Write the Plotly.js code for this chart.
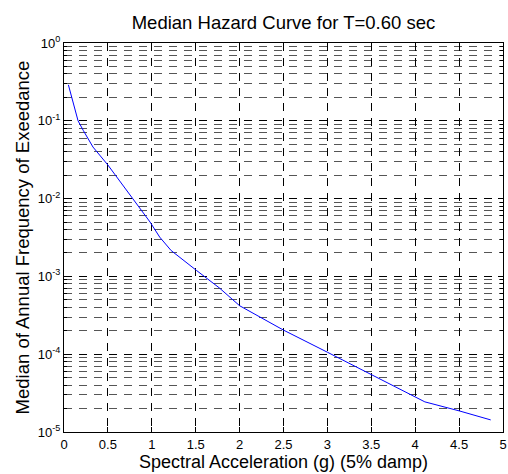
<!DOCTYPE html>
<html>
<head>
<meta charset="utf-8">
<script src="https://cdn.plot.ly/plotly-3.0.1.min.js"></script>
<style>html,body{margin:0;padding:0;background:#fff;}#chart{width:508px;height:474px;}</style>
</head>
<body>
<div id="chart"></div>
<script>
// Spectral acceleration (g)
var saValues = [0.05, 0.16, 0.22, 0.33, 0.5, 0.66, 0.77, 0.85, 0.98, 1.09, 1.22, 1.51, 1.77, 2.0, 2.5, 3.0, 3.5, 4.02, 4.11, 4.5, 4.86];
// Median annual frequency of exceedance
var freqValues = [0.29, 0.10, 0.075, 0.046, 0.027, 0.0155, 0.0105, 0.0078, 0.0050, 0.0032, 0.00215, 0.00119, 0.00071, 0.00042, 0.000204, 0.000106, 0.000055, 0.0000277, 0.0000244, 0.0000187, 0.0000143];
// Y tick positions and labels
var yTickVals = [1e-5, 1e-4, 1e-3, 1e-2, 1e-1, 1];
var yTickText = ['10<sup>-5</sup>', '10<sup>-4</sup>', '10<sup>-3</sup>', '10<sup>-2</sup>', '10<sup>-1</sup>', '10<sup>0</sup>'];

var font = 'Liberation Sans, Arial, sans-serif';
var gridDash = '8px,7px';

var trace = {
  x: saValues,
  y: freqValues,
  type: 'scatter',
  mode: 'lines',
  line: {color: '#0000ff', width: 1},
  hoverinfo: 'x+y'
};

var layout = {
  width: 508,
  height: 474,
  margin: {l: 64, r: 5, t: 43, b: 42, pad: 0},
  paper_bgcolor: '#ffffff',
  plot_bgcolor: '#ffffff',
  showlegend: false,
  font: {family: font, size: 13, color: '#000'},
  title: {
    text: 'Median Hazard Curve for T=0.60 sec',
    font: {family: font, size: 18.5, color: '#000'},
    x: 0.558, xanchor: 'center',
    y: 0.952, yanchor: 'middle', yref: 'container'
  },
  xaxis: {
    range: [0, 5],
    dtick: 0.5,
    tick0: 0,
    ticks: 'inside',
    ticklen: 5,
    tickcolor: '#000',
    showline: true,
    linecolor: '#000',
    linewidth: 1,
    mirror: 'ticks',
    showgrid: true,
    gridcolor: '#000',
    gridwidth: 1,
    griddash: gridDash,
    zeroline: false,
    tickfont: {family: font, size: 13, color: '#000'},
    title: {text: 'Spectral Acceleration (g) (5% damp)', font: {family: font, size: 18, color: '#000'}, standoff: 3}
  },
  yaxis: {
    type: 'log',
    range: [-5, 0],
    tickmode: 'array',
    tickvals: yTickVals,
    ticktext: yTickText,
    ticks: 'inside',
    ticklen: 5,
    tickcolor: '#000',
    showline: true,
    linecolor: '#000',
    linewidth: 1,
    mirror: 'ticks',
    showgrid: true,
    gridcolor: '#000',
    gridwidth: 1,
    griddash: gridDash,
    zeroline: false,
    tickfont: {family: font, size: 13, color: '#000'},
    minor: {
      tickmode: 'linear',
      dtick: 'D1',
      ticks: 'inside',
      ticklen: 3,
      tickcolor: '#000',
      showgrid: true,
      gridcolor: '#555',
      gridwidth: 1,
      griddash: gridDash
    },
    title: {text: 'Median of Annual Frequency of Exeedance', font: {family: font, size: 18.5, color: '#000'}, standoff: 3}
  }
};

Plotly.newPlot('chart', [trace], layout, {displayModeBar: false, staticPlot: true});
</script>
</body>
</html>
